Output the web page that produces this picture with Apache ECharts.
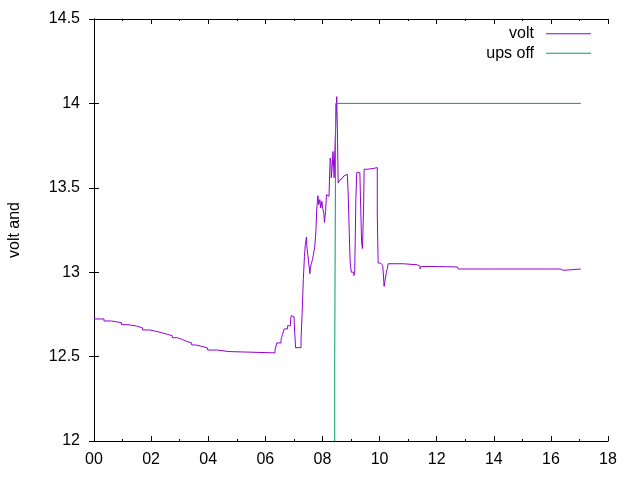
<!DOCTYPE html>
<html>
<head>
<meta charset="utf-8">
<script src="https://cdn.jsdelivr.net/npm/echarts@6/dist/echarts.min.js"></script>
<style>
  html, body { margin: 0; padding: 0; background: #fff; }
  #main { width: 640px; height: 480px; }
</style>
</head>
<body>
<div id="main"></div>
<script>
// hours since midnight, battery volt (held until the next reading)
var voltTime = [
  0.00, 0.35, 0.61, 0.96, 1.19, 1.49, 1.70, 1.94, 2.12, 2.36,
  2.57, 2.74, 2.92, 3.10, 3.24, 3.42, 3.56, 3.77, 3.98, 4.32,
  4.70, 6.34, 6.40, 6.55, 6.60, 6.66, 6.78, 6.88, 6.91, 6.97,
  7.01, 7.03, 7.06, 7.25, 7.29, 7.33, 7.37, 7.40, 7.44, 7.46,
  7.49, 7.52, 7.56, 7.58, 7.61, 7.65, 7.68, 7.73, 7.77, 7.80,
  7.84, 7.87, 7.91, 7.94, 7.98, 8.01, 8.05, 8.07, 8.11, 8.14,
  8.18, 8.23, 8.27, 8.30, 8.31, 8.34, 8.37, 8.41, 8.43, 8.46,
  8.48, 8.50, 8.53, 8.55, 8.60, 8.64, 8.69, 8.75, 8.81, 8.87,
  8.90, 8.94, 8.97, 9.01, 9.10, 9.13, 9.17, 9.20, 9.31, 9.33,
  9.37, 9.40, 9.44, 9.46, 9.57, 9.80, 9.92, 9.95, 10.04, 10.11,
  10.13, 10.16, 10.20, 10.24, 10.27, 10.30, 10.83, 10.87, 11.32, 11.42,
  11.46, 11.70, 11.74, 12.72, 12.76, 13.89, 13.93, 14.33, 14.37, 15.05,
  15.09, 15.73, 15.77, 16.02, 16.07, 16.33, 16.44, 17.05
];
var voltValue = [
  12.723, 12.711, 12.701, 12.689, 12.681, 12.670, 12.658, 12.652, 12.642, 12.632,
  12.624, 12.612, 12.601, 12.591, 12.581, 12.569, 12.561, 12.551, 12.539, 12.530,
  12.522, 12.541, 12.581, 12.601, 12.630, 12.664, 12.683, 12.719, 12.743, 12.735,
  12.700, 12.640, 12.553, 12.600, 12.760, 12.956, 13.094, 13.163, 13.208, 13.143,
  13.100, 13.054, 12.991, 13.030, 13.050, 13.074, 13.100, 13.153, 13.241, 13.374,
  13.453, 13.400, 13.430, 13.380, 13.420, 13.380, 13.350, 13.295, 13.360, 13.459,
  13.450, 13.440, 13.676, 13.650, 13.560, 13.620, 13.715, 13.560, 13.700, 13.850,
  13.930, 14.040, 13.774, 13.528, 13.545, 13.555, 13.565, 13.570, 13.580, 13.575,
  13.470, 13.230, 13.060, 13.000, 12.980, 13.000, 13.430, 13.590, 13.590, 13.450,
  13.180, 13.140, 13.380, 13.610, 13.615, 13.620, 13.340, 13.054, 13.050, 13.040,
  12.995, 12.916, 12.960, 13.000, 13.020, 13.050, 13.058, 13.044, 13.035, 13.020,
  13.034, 13.040, 13.031, 13.040, 13.019, 13.026, 13.019, 13.026, 13.019, 13.026,
  13.019, 13.026, 13.019, 13.011, 13.019, 13.011, 13.019, 13.019
];
// ups off marker: low before the switch, 14 afterwards
var upsTime = [8.43, 8.43, 8.465, 17.05];
var upsValue = [0, 12.5, 14, 14];

var xTicks = { min: 0, max: 18, interval: 2 };
var yTicks = { min: 12, max: 14.5, interval: 0.5 };

function pairs(t, v) {
  return t.map(function (x, i) { return [x, v[i]]; });
}

var myChart = echarts.init(document.getElementById("main"));

var font = "Liberation Sans";
var axisCommon = {
  axisLine: { show: true, lineStyle: { color: "#000", width: 1 } },
  axisTick: { show: true, inside: true, length: 5, lineStyle: { color: "#000" } },
  splitLine: { show: false }
};

myChart.setOption({
  animation: false,
  backgroundColor: "#fff",
  grid: { left: 94, right: 32, top: 19, bottom: 39, outerBoundsMode: "none", containLabel: false },
  legend: {
    orient: "vertical",
    right: 44,
    top: 19,
    align: "right",
    icon: "rect",
    itemWidth: 45,
    itemHeight: 1,
    itemGap: 0,
    textStyle: { fontFamily: font, fontSize: 16, color: "#000", lineHeight: 19.5, padding: [0, 7, 0, 0] },
    data: ["volt", "ups off"]
  },
  xAxis: [
    Object.assign({}, axisCommon, {
      type: "value",
      position: "bottom",
      min: xTicks.min, max: xTicks.max, interval: xTicks.interval,
      minorTick: { show: true, splitNumber: 2, length: 2, lineStyle: { color: "#000" } },
      axisLabel: {
        margin: 11, fontFamily: font, fontSize: 16, color: "#000",
        formatter: function (v) { return (v < 10 ? "0" : "") + v; }
      }
    }),
    Object.assign({}, axisCommon, {
      type: "value",
      position: "top",
      min: xTicks.min, max: xTicks.max, interval: xTicks.interval,
      minorTick: { show: true, splitNumber: 2, length: 2, lineStyle: { color: "#000" } },
      axisLabel: { show: false }
    })
  ],
  yAxis: [
    Object.assign({}, axisCommon, {
      type: "value",
      position: "left",
      min: yTicks.min, max: yTicks.max, interval: yTicks.interval,
      name: "volt and",
      nameLocation: "middle",
      nameRotate: 90,
      nameGap: 71,
      nameTextStyle: { fontFamily: font, fontSize: 16, color: "#000" },
      axisLabel: { margin: 14, fontFamily: font, fontSize: 16, color: "#000" }
    }),
    Object.assign({}, axisCommon, {
      type: "value",
      position: "right",
      min: yTicks.min, max: yTicks.max, interval: yTicks.interval,
      axisLabel: { show: false }
    })
  ],
  series: [
    {
      name: "volt",
      type: "line",
      step: "end",
      symbol: "none",
      clip: true,
      color: "#9400d3",
      lineStyle: { color: "#9400d3", width: 1 },
      data: pairs(voltTime, voltValue)
    },
    {
      name: "ups off",
      type: "line",
      symbol: "none",
      clip: true,
      color: "#009e73",
      lineStyle: { color: "#009e73", width: 1 },
      data: pairs(upsTime, upsValue)
    }
  ]
});
</script>
</body>
</html>
